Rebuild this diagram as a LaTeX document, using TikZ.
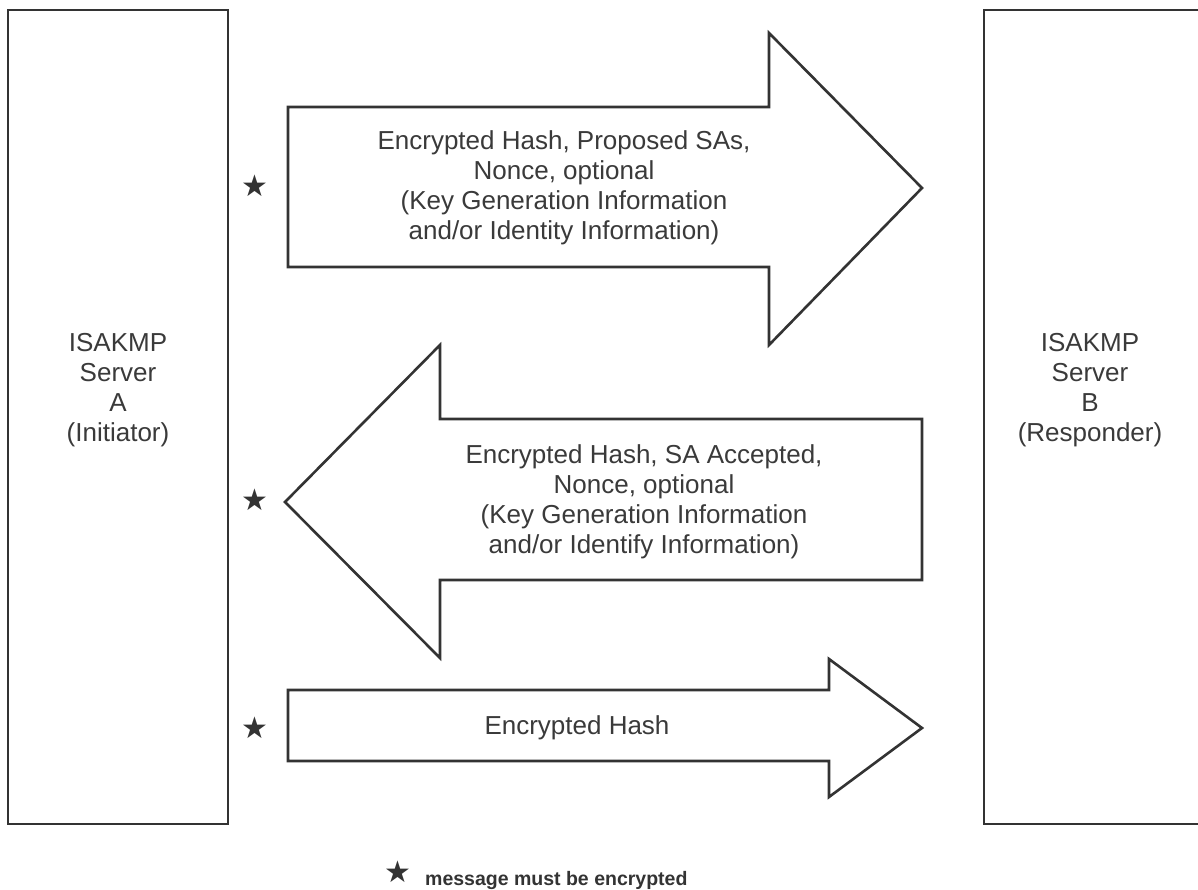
\documentclass[tikz,border=0pt]{standalone}
\usepackage{fontspec}
\setmainfont{Liberation Sans}
\newfontfamily\symfont{DejaVu Sans}
\definecolor{ink}{HTML}{333333}
\definecolor{txt}{HTML}{3A3A3A}
\tikzset{
  server/.style={draw=ink, line width=2.6pt, fill=white, rectangle},
  bigarrow/.style={draw=ink, line width=2.6pt, fill=white, line join=miter},
  msg/.style={text=txt, align=center, font=\fontsize{26}{30}\selectfont, inner sep=0pt},
  srvlabel/.style={text=txt, align=center, font=\fontsize{26}{30}\selectfont, inner sep=0pt},
  starmark/.style={text=ink, font=\symfont\fontsize{30}{30}\selectfont, inner sep=0pt},
  legend/.style={text=ink, font=\bfseries\fontsize{19.5}{20}\selectfont, inner sep=0pt, anchor=base west}
}
\begin{document}
\begin{tikzpicture}[x=1pt,y=-1pt]
\clip (0,0) rectangle (1198,890);
\fill[white] (0,0) rectangle (1198,890);
% servers
\draw[server] (8,10) rectangle (228,824);
\draw[server] (984,10) rectangle (1240,824);
\coordinate (A) at (118,417);
\coordinate (B) at (1090,417);
\node[srvlabel] (la) at (118,390) {ISAKMP\\Server\\A\\(Initiator)};
\node[srvlabel] (lb) at (1090,390) {ISAKMP\\Server\\B\\(Responder)};
% arrow 1
\draw[bigarrow] (288,107) -- (769,107) -- (769,33) -- (922,188) -- (769,345) -- (769,267) -- (288,267) -- cycle;
\node[msg] (m1) at (564,188) {Encrypted Hash, Proposed SAs,\\Nonce, optional\\(Key Generation Information\\and/or Identity Information)};
% arrow 2
\draw[bigarrow] (922,419) -- (440,419) -- (440,345) -- (285,502) -- (440,658) -- (440,580) -- (922,580) -- cycle;
\node[msg] (m2) at (644,502) {Encrypted Hash, SA Accepted,\\Nonce, optional\\(Key Generation Information\\and/or Identify Information)};
% arrow 3
\draw[bigarrow] (288,690) -- (829,690) -- (829,659) -- (922,728) -- (829,797) -- (829,761) -- (288,761) -- cycle;
\node[msg] (m3) at (577,728) {Encrypted Hash};
% stars
\node[starmark] (s1) at (255,186) {★};
\node[starmark] (s2) at (255,500) {★};
\node[starmark] (s3) at (255,728) {★};
% legend
\node[starmark] (s4) at (398,872) {★};
\node[legend] (lg) at (425,885) {message must be encrypted};
\end{tikzpicture}
\end{document}
